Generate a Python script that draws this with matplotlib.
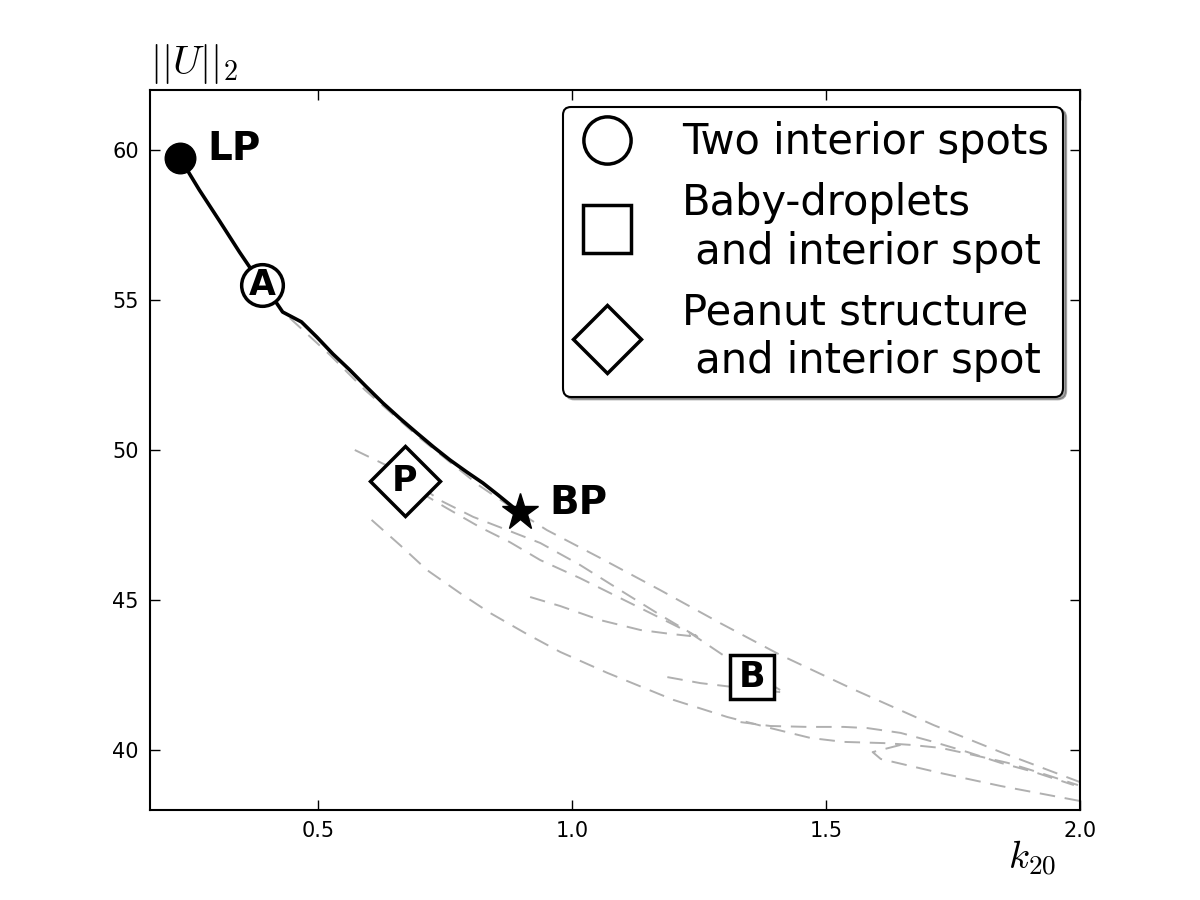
import matplotlib
matplotlib.use("Agg")
import matplotlib.pyplot as plt
from matplotlib.lines import Line2D
import numpy as np

plt.rcParams['mathtext.fontset'] = 'cm'

# Solid stable branch (LP -> BP)
main_k = [0.230, 0.248, 0.267, 0.307, 0.346, 0.390, 0.419, 0.431, 0.468, 0.498, 0.530, 0.563, 0.595, 0.628, 0.662, 0.695, 0.728, 0.760, 0.793, 0.825, 0.855, 0.884, 0.898]
main_u = [59.73, 59.20, 58.67, 57.63, 56.60, 55.50, 54.90, 54.60, 54.27, 53.77, 53.20, 52.67, 52.12, 51.57, 51.05, 50.57, 50.10, 49.67, 49.27, 48.90, 48.50, 48.10, 47.93]

# Dashed unstable branches (grey)
g1_k = [0.445, 0.524, 0.593, 0.701, 0.819, 0.898, 0.951, 1.056, 1.174, 1.292, 1.410, 1.548, 1.712, 1.844, 2.000]
g1_u = [54.40, 53.17, 52.00, 50.40, 48.80, 47.90, 47.33, 46.40, 45.33, 44.23, 43.17, 42.07, 40.83, 39.93, 38.93]

g2_k = [0.573, 0.662, 0.740, 0.806, 0.873, 0.938, 1.016, 1.095, 1.174, 1.247, 1.233]
g2_u = [50.00, 49.27, 48.33, 47.77, 47.33, 46.90, 46.17, 45.33, 44.50, 43.77, 44.00]

g3_k = [0.701, 0.750, 0.819, 0.878, 0.938, 1.016, 1.135, 1.233, 1.312, 1.410]
g3_u = [48.60, 48.10, 47.43, 46.93, 46.33, 45.73, 44.73, 43.90, 43.00, 42.00]

g4_k = [0.918, 0.977, 1.056, 1.135, 1.194, 1.233, 1.223]
g4_u = [45.10, 44.80, 44.33, 44.00, 43.87, 43.80, 44.00]

g5_k = [0.606, 0.662, 0.715, 0.780, 0.839, 0.908, 0.977, 1.070, 1.200, 1.306, 1.391, 1.470, 1.535, 1.614, 1.667, 1.726, 1.791, 1.858, 1.923, 1.996]
g5_u = [47.67, 46.83, 46.00, 45.23, 44.57, 43.90, 43.27, 42.57, 41.67, 41.10, 40.73, 40.40, 40.27, 40.23, 40.17, 40.07, 39.83, 39.57, 39.23, 38.83]

g6_k = [1.332, 1.391, 1.464, 1.535, 1.582, 1.647, 1.712, 1.779, 1.844, 1.909, 1.988]
g6_u = [40.93, 40.80, 40.77, 40.77, 40.73, 40.57, 40.27, 39.93, 39.57, 39.27, 38.83]

g7_k = [1.647, 1.592, 1.608, 1.726, 1.844, 2.000]
g7_u = [40.17, 39.93, 39.70, 39.23, 38.80, 38.30]

g8_k = [1.188, 1.253, 1.332, 1.410]
g8_u = [42.43, 42.23, 42.07, 41.93]

grey_k = [g1_k, g2_k, g3_k, g4_k, g5_k, g6_k, g7_k, g8_k]
grey_u = [g1_u, g2_u, g3_u, g4_u, g5_u, g6_u, g7_u, g8_u]

# Special points
lp_k, lp_u = 0.230, 59.73
bp_k, bp_u = 0.898, 47.93
a_k, a_u = 0.390, 55.50
p_k, p_u = 0.671, 48.97
b_k, b_u = 1.355, 42.43

legend_labels = ["Two interior spots", "Baby-droplets\n and interior spot", "Peanut structure\n and interior spot"]

fig = plt.figure(figsize=(12, 9), dpi=100)
ax = fig.add_axes([0.125, 0.1, 0.775, 0.8])

for xs, ys in zip(grey_k, grey_u):
    ax.plot(xs, ys, color='#b0b0b0', lw=1.4, dashes=(8, 5), zorder=1)

ax.plot(main_k, main_u, color='black', lw=2.6, zorder=2, solid_joinstyle='round')

ax.plot([lp_k], [lp_u], 'o', color='black', ms=22, zorder=4)
ax.plot([bp_k], [bp_u], '*', color='black', ms=28, zorder=4)
ax.text(lp_k + 0.053, lp_u + 0.3, 'LP', fontsize=28, fontweight='bold', va='center', ha='left')
ax.text(bp_k + 0.058, bp_u + 0.3, 'BP', fontsize=28, fontweight='bold', va='center', ha='left')

ax.plot([a_k], [a_u], 'o', mfc='white', mec='black', mew=2.5, ms=30, zorder=5)
ax.text(a_k, a_u, 'A', fontsize=25, fontweight='bold', ha='center', va='center', zorder=6)
ax.plot([p_k], [p_u], 'D', mfc='white', mec='black', mew=2.5, ms=36, zorder=5)
ax.text(p_k, p_u, 'P', fontsize=25, fontweight='bold', ha='center', va='center', zorder=6)
ax.plot([b_k], [b_u], 's', mfc='white', mec='black', mew=2.5, ms=32, zorder=5)
ax.text(b_k, b_u, 'B', fontsize=25, fontweight='bold', ha='center', va='center', zorder=6)

ax.set_xlim(0.17, 2.0)
ax.set_ylim(38, 62)
ax.set_xticks([0.5, 1.0, 1.5, 2.0])
ax.set_yticks([40, 45, 50, 55, 60])
ax.tick_params(direction='in', top=True, right=True, length=7, width=1, labelsize=15, pad=8)
for s in ax.spines.values():
    s.set_linewidth(1.5)

handles = [
    Line2D([], [], ls='none', marker='o', mfc='white', mec='black', mew=2.5, ms=34),
    Line2D([], [], ls='none', marker='s', mfc='white', mec='black', mew=2.5, ms=34),
    Line2D([], [], ls='none', marker='D', mfc='white', mec='black', mew=2.5, ms=35),
]
leg = ax.legend(handles, legend_labels, loc='upper right', fontsize=30, numpoints=1,
                shadow=True, fancybox=True, framealpha=1, edgecolor='black',
                handlelength=1.4, handletextpad=1.1, labelspacing=0.45, borderpad=0.35,
                borderaxespad=0.4)
leg.get_frame().set_linewidth(1.5)

fig.text(0.125, 0.905, r'$||U||_2$', fontsize=29, ha='left', va='bottom')
fig.text(0.88, 0.025, r'$k_{20}$', fontsize=28, ha='right', va='bottom')

fig.savefig('out.png', dpi=100)
